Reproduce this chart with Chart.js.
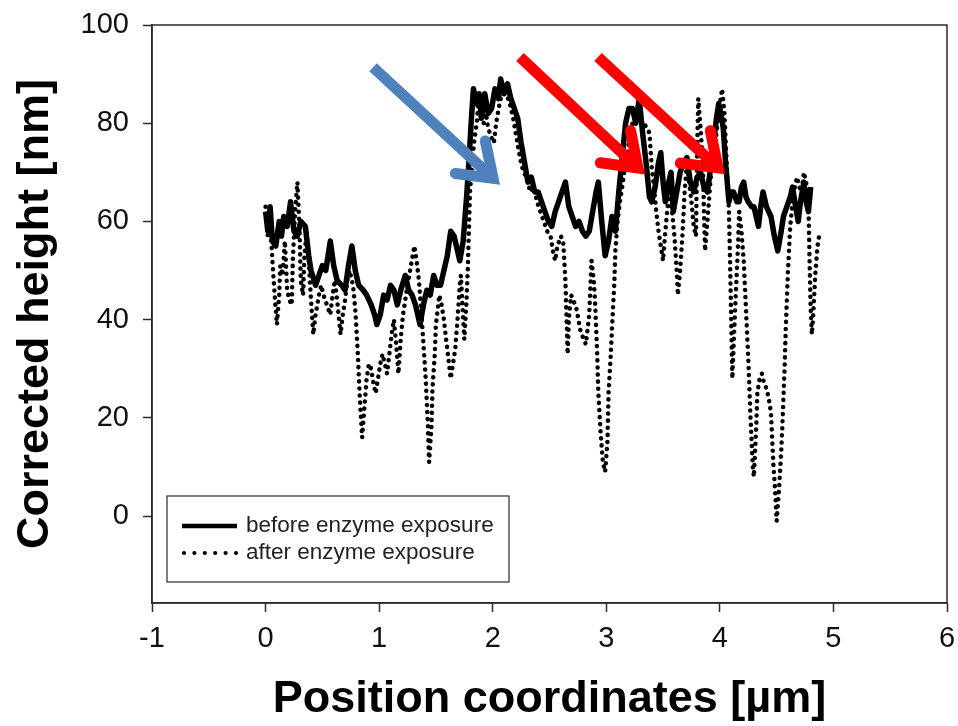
<!DOCTYPE html>
<html>
<head>
<meta charset="utf-8">
<title>Corrected height profile</title>
<script src="https://cdn.jsdelivr.net/npm/chart.js@4.4.1/dist/chart.umd.min.js"></script>
<style>
  html, body { margin: 0; padding: 0; background: #fff; }
  #wrap { width: 958px; height: 726px; }
</style>
</head>
<body>
<div id="wrap"><canvas id="profile" width="958" height="726"></canvas></div>
<script>
// ── Data ──────────────────────────────────────────────────────
const beforeX = [
  0.00, 0.02, 0.04, 0.06, 0.09, 0.12, 0.14, 0.16, 0.19, 0.22, 0.25, 0.28, 0.31, 0.35, 0.38, 0.40,
  0.44, 0.47, 0.50, 0.53, 0.57, 0.60, 0.63, 0.67, 0.70, 0.73, 0.76, 0.79, 0.82, 0.86, 0.89, 0.93,
  0.96, 0.98, 1.01, 1.04, 1.07, 1.10, 1.13, 1.16, 1.19, 1.23, 1.26, 1.29, 1.32, 1.36, 1.39, 1.42,
  1.45, 1.48, 1.51, 1.54, 1.57, 1.60, 1.63, 1.66, 1.69, 1.71, 1.74, 1.77, 1.79, 1.81, 1.83, 1.86,
  1.88, 1.90, 1.93, 1.96, 1.99, 2.02, 2.05, 2.07, 2.10, 2.13, 2.16, 2.19, 2.22, 2.25, 2.28, 2.31,
  2.34, 2.37, 2.40, 2.43, 2.46, 2.49, 2.52, 2.55, 2.58, 2.61, 2.64, 2.67, 2.70, 2.73, 2.76, 2.79,
  2.82, 2.85, 2.88, 2.91, 2.93, 2.96, 2.99, 3.02, 3.05, 3.08, 3.11, 3.14, 3.17, 3.20, 3.23, 3.26,
  3.29, 3.32, 3.35, 3.38, 3.40, 3.43, 3.46, 3.48, 3.50, 3.52, 3.55, 3.57, 3.59, 3.62, 3.65, 3.68,
  3.71, 3.74, 3.77, 3.80, 3.83, 3.86, 3.89, 3.92, 3.94, 3.97, 3.99, 4.01, 4.03, 4.05, 4.08, 4.10,
  4.12, 4.15, 4.17, 4.19, 4.21, 4.23, 4.25, 4.28, 4.30, 4.32, 4.34, 4.36, 4.38, 4.41, 4.43, 4.45,
  4.48, 4.51, 4.54, 4.56, 4.59, 4.62, 4.64, 4.66, 4.69, 4.71, 4.74, 4.76, 4.78, 4.80,
]
const beforeY = [
  62, 58, 63, 56, 55, 60, 57, 61, 59, 64, 58, 57, 60, 59, 53, 50,
  47, 49, 51, 50, 56, 51, 48, 47, 46, 51, 55, 50, 47, 46, 45, 43,
  41, 39, 41, 45, 44, 47, 46, 43, 46, 49, 46, 45, 43, 39, 43, 46,
  45, 49, 47, 47, 50, 53, 58, 57, 54, 52, 56, 65, 72, 80, 87, 84,
  86, 81, 86, 82, 83, 87, 85, 89, 86, 88, 85, 83, 81, 76, 72, 68,
  69, 66, 66, 64, 62, 60, 59, 62, 64, 66, 68, 63, 61, 59, 60, 58,
  57, 58, 62, 66, 68, 60, 53, 56, 61, 58, 66, 73, 80, 83, 83, 80,
  85, 78, 72, 65, 64, 67, 72, 74, 68, 64, 68, 70, 62, 66, 70, 72,
  73, 68, 66, 69, 70, 67, 66, 71, 75, 81, 84, 82, 79, 72, 64, 66,
  66, 64, 64, 67, 68, 65, 64, 63, 63, 61, 59, 63, 66, 63, 62, 61,
  57, 54, 58, 61, 63, 65, 67, 64, 60, 64, 68, 64, 62, 67,
]

const afterX = [
  0.00, 0.02, 0.04, 0.06, 0.08, 0.10, 0.12, 0.13, 0.15, 0.17, 0.19, 0.21, 0.23, 0.24, 0.26, 0.28,
  0.30, 0.31, 0.33, 0.34, 0.36, 0.38, 0.40, 0.42, 0.44, 0.47, 0.49, 0.51, 0.54, 0.57, 0.59, 0.61,
  0.63, 0.66, 0.68, 0.70, 0.72, 0.74, 0.77, 0.79, 0.81, 0.83, 0.85, 0.87, 0.89, 0.91, 0.93, 0.95,
  0.97, 0.99, 1.01, 1.03, 1.05, 1.07, 1.09, 1.11, 1.13, 1.15, 1.17, 1.19, 1.21, 1.23, 1.25, 1.28,
  1.31, 1.33, 1.35, 1.37, 1.39, 1.41, 1.43, 1.44, 1.46, 1.47, 1.49, 1.50, 1.53, 1.55, 1.57, 1.59,
  1.61, 1.63, 1.65, 1.67, 1.69, 1.71, 1.72, 1.74, 1.75, 1.77, 1.78, 1.80, 1.82, 1.84, 1.86, 1.88,
  1.90, 1.92, 1.94, 1.96, 1.99, 2.01, 2.03, 2.06, 2.09, 2.12, 2.15, 2.18, 2.21, 2.24, 2.27, 2.30,
  2.33, 2.36, 2.39, 2.42, 2.45, 2.48, 2.51, 2.53, 2.55, 2.57, 2.60, 2.62, 2.64, 2.66, 2.67, 2.69,
  2.71, 2.74, 2.77, 2.80, 2.82, 2.84, 2.85, 2.87, 2.89, 2.90, 2.92, 2.93, 2.95, 2.97, 2.99, 3.01,
  3.02, 3.04, 3.05, 3.07, 3.08, 3.10, 3.12, 3.14, 3.17, 3.20, 3.23, 3.27, 3.30, 3.33, 3.36, 3.38,
  3.40, 3.42, 3.44, 3.46, 3.48, 3.50, 3.52, 3.54, 3.56, 3.58, 3.60, 3.62, 3.63, 3.65, 3.67, 3.69,
  3.71, 3.73, 3.75, 3.77, 3.79, 3.80, 3.81, 3.83, 3.85, 3.86, 3.87, 3.89, 3.92, 3.94, 3.96, 3.98,
  4.00, 4.02, 4.04, 4.06, 4.08, 4.09, 4.10, 4.11, 4.12, 4.14, 4.16, 4.17, 4.19, 4.21, 4.23, 4.25,
  4.27, 4.29, 4.30, 4.32, 4.33, 4.35, 4.37, 4.39, 4.41, 4.43, 4.45, 4.46, 4.47, 4.49, 4.50, 4.52,
  4.54, 4.55, 4.57, 4.58, 4.60, 4.62, 4.64, 4.66, 4.68, 4.70, 4.72, 4.74, 4.76, 4.78, 4.79, 4.80,
  4.81, 4.82, 4.84, 4.86, 4.88,
]
const afterY = [
  63, 57, 60, 52, 45, 39, 45, 51, 49, 56, 46, 44, 43, 52, 62, 68,
  58, 48, 45, 52, 58, 52, 44, 37, 41, 45, 47, 45, 43, 41, 45, 48,
  44, 37, 41, 44, 48, 50, 47, 42, 34, 24, 16, 22, 28, 31, 30, 27,
  25, 28, 31, 33, 31, 29, 33, 37, 40, 35, 29, 36, 41, 44, 47, 51,
  55, 52, 48, 42, 35, 28, 18, 11, 18, 26, 33, 39, 45, 43, 40, 36,
  32, 28, 31, 34, 40, 47, 49, 40, 36, 44, 50, 66, 72, 77, 80, 86,
  84, 80, 82, 79, 77, 76, 80, 84, 87, 86, 84, 81, 77, 73, 70, 69,
  66, 67, 64, 62, 60, 58, 57, 54, 52, 55, 57, 56, 48, 33, 40, 45,
  44, 42, 38, 36, 35, 39, 41, 52, 48, 44, 33, 25, 17, 11, 9, 15,
  25, 33, 38, 47, 54, 60, 64, 67, 72, 76, 80, 83, 81, 80, 79, 78,
  71, 67, 62, 58, 55, 52, 58, 63, 66, 62, 57, 50, 45, 50, 57, 66,
  72, 68, 64, 59, 57, 75, 85, 79, 72, 62, 54, 60, 69, 73, 76, 80,
  84, 87, 82, 72, 62, 52, 40, 28, 34, 45, 55, 62, 58, 52, 42, 32,
  20, 10, 8, 18, 25, 28, 29, 27, 26, 24, 21, 16, 11, 4, -1, 5,
  13, 18, 30, 38, 50, 59, 64, 67, 69, 67, 66, 70, 68, 64, 52, 42,
  37, 40, 49, 55, 58,
]

const xTicks = [-1, 0, 1, 2, 3, 4, 5, 6]
const yTicks = [0, 20, 40, 60, 80, 100]

// annotation arrows, in data units (start -> tip)
const arrowFromX = [0.946, 2.24, 2.927]
const arrowFromY = [91.4, 93.5, 93.5]
const arrowToX = [2.003, 3.279, 3.984]
const arrowToY = [68.8, 70.9, 70.9]
const arrowColors = ['#4f81bd', '#ff0000', '#ff0000']

const legendLabels = ['before enzyme exposure', 'after enzyme exposure']

// ── Styling ───────────────────────────────────────────────────
const FONT = '"Liberation Sans", Arial, Helvetica, sans-serif'
const ink = '#111'
const frameColor = '#2a2a2a'

const toPoints = (xs, ys) => xs.map((x, i) => ({ x, y: ys[i] }))

// ── Plugins ───────────────────────────────────────────────────
const framePlugin = {
  id: 'frame',
  afterDraw(chart) {
    const { ctx, chartArea: a } = chart
    ctx.save()
    ctx.strokeStyle = frameColor
    ctx.lineWidth = 1.5
    ctx.strokeRect(a.left, a.top, a.right - a.left, a.bottom - a.top)
    ctx.restore()
  },
}

const arrowPlugin = {
  id: 'arrows',
  afterDatasetsDraw(chart) {
    const { ctx, scales } = chart
    const headLen = 38
    const spread = 0.62
    arrowFromX.forEach((fx, i) => {
      const x0 = scales.x.getPixelForValue(fx)
      const y0 = scales.y.getPixelForValue(arrowFromY[i])
      const x1 = scales.x.getPixelForValue(arrowToX[i])
      const y1 = scales.y.getPixelForValue(arrowToY[i])
      const ang = Math.atan2(y1 - y0, x1 - x0)
      ctx.save()
      ctx.strokeStyle = arrowColors[i]
      ctx.lineWidth = 11
      ctx.lineCap = 'butt'
      ctx.beginPath()
      ctx.moveTo(x0, y0)
      ctx.lineTo(x1 - 4 * Math.cos(ang), y1 - 4 * Math.sin(ang))
      ctx.stroke()
      ctx.lineCap = 'round'
      ctx.lineJoin = 'miter'
      ctx.beginPath()
      ctx.moveTo(x1 - headLen * Math.cos(ang - spread), y1 - headLen * Math.sin(ang - spread))
      ctx.lineTo(x1, y1)
      ctx.lineTo(x1 - headLen * Math.cos(ang + spread), y1 - headLen * Math.sin(ang + spread))
      ctx.stroke()
      ctx.restore()
    })
  },
}

const legendPlugin = {
  id: 'boxLegend',
  afterDraw(chart) {
    const { ctx, chartArea: a } = chart
    const bx = a.left + 15
    const by = a.bottom - 107
    const bw = 342
    const bh = 86
    ctx.save()
    ctx.fillStyle = '#fff'
    ctx.fillRect(bx, by, bw, bh)
    ctx.strokeStyle = frameColor
    ctx.lineWidth = 1.2
    ctx.strokeRect(bx, by, bw, bh)

    const rows = [by + 30, by + 57]
    // solid sample
    ctx.strokeStyle = '#000'
    ctx.lineWidth = 4.5
    ctx.beginPath()
    ctx.moveTo(bx + 15, rows[0])
    ctx.lineTo(bx + 70, rows[0])
    ctx.stroke()
    // dotted sample
    ctx.fillStyle = '#000'
    for (let k = 0; k < 6; k++) {
      ctx.beginPath()
      ctx.arc(bx + 17 + k * 10.4, rows[1], 2.1, 0, Math.PI * 2)
      ctx.fill()
    }
    ctx.fillStyle = '#222'
    ctx.font = `22.5px ${FONT}`
    ctx.textBaseline = 'middle'
    legendLabels.forEach((t, i) => ctx.fillText(t, bx + 79, rows[i]))
    ctx.restore()
  },
}

// ── Chart ─────────────────────────────────────────────────────
new Chart(document.getElementById('profile'), {
  type: 'line',
  data: {
    datasets: [
      {
        label: legendLabels[0],
        data: toPoints(beforeX, beforeY),
        borderColor: '#000',
        borderWidth: 5.5,
        borderJoinStyle: 'round',
        pointRadius: 0,
        tension: 0,
        fill: false,
      },
      {
        label: legendLabels[1],
        data: toPoints(afterX, afterY),
        borderColor: '#000',
        borderWidth: 4.5,
        borderDash: [0.1, 7],
        borderCapStyle: 'round',
        pointRadius: 0,
        tension: 0,
        fill: false,
      },
    ],
  },
  options: {
    responsive: false,
    animation: false,
    devicePixelRatio: 1,
    layout: { padding: { top: 25, right: 11, left: 0, bottom: 0 } },
    plugins: {
      legend: { display: false },
      tooltip: { enabled: false },
    },
    scales: {
      x: {
        type: 'linear',
        min: -1,
        max: 6,
        afterBuildTicks: (s) => { s.ticks = xTicks.map((v) => ({ value: v })) },
        afterFit: (s) => {
          s.height = 123
          s.paddingLeft = 0
          s.paddingRight = 0
        },
        grid: { drawOnChartArea: false, drawTicks: true, tickLength: 9, tickColor: frameColor, tickWidth: 1.5 },
        border: { display: true, color: frameColor, width: 1.5 },
        ticks: { color: ink, padding: 10, font: { family: FONT, size: 29 } },
        title: {
          display: true,
          text: 'Position coordinates [µm]',
          color: '#000',
          font: { family: FONT, size: 45, weight: 'bold', lineHeight: 1 },
          padding: { top: 0, bottom: 4 },
        },
      },
      y: {
        type: 'linear',
        min: -17.7,
        max: 100,
        afterBuildTicks: (s) => { s.ticks = yTicks.map((v) => ({ value: v })) },
        afterFit: (s) => {
          s.width = 152
          s.paddingTop = 0
          s.paddingBottom = 0
        },
        grid: { drawOnChartArea: false, drawTicks: true, tickLength: 9, tickColor: frameColor, tickWidth: 1.5 },
        border: { display: true, color: frameColor, width: 1.5 },
        ticks: { color: ink, padding: 14, font: { family: FONT, size: 29 } },
        title: {
          display: true,
          text: 'Corrected height [nm]',
          color: '#000',
          font: { family: FONT, size: 45, weight: 'bold', lineHeight: 1 },
          padding: { top: 13, bottom: 0 },
        },
      },
    },
  },
  plugins: [framePlugin, arrowPlugin, legendPlugin],
})
</script>
</body>
</html>
